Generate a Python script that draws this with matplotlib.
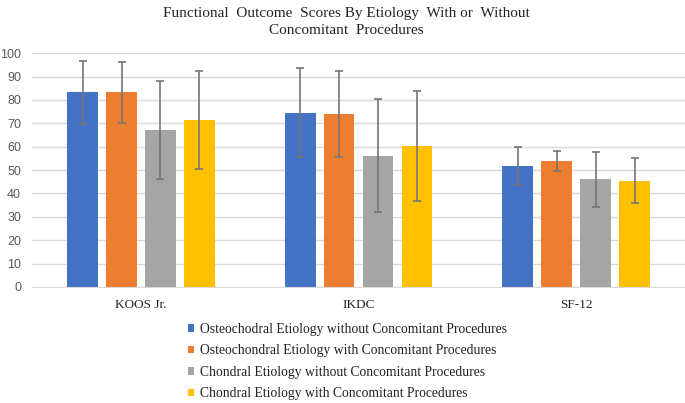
import matplotlib
matplotlib.use("Agg")
import matplotlib.pyplot as plt
import numpy as np

categories = ["KOOS Jr.", "IKDC", "SF-12"]
series_names = [
    "Osteochodral Etiology without Concomitant Procedures",
    "Osteochondral Etiology with Concomitant Procedures",
    "Chondral Etiology without Concomitant Procedures",
    "Chondral Etiology with Concomitant Procedures",
]
means = [
    [83.3, 74.6, 51.7],
    [83.3, 74.0, 54.0],
    [67.3, 56.1, 46.0],
    [71.3, 60.2, 45.5],
]
sds = [
    [13.5, 19.0, 8.0],
    [13.0, 18.5, 4.2],
    [21.0, 24.2, 11.8],
    [21.0, 23.6, 9.5],
]
yticks = list(range(0, 101, 10))

colors = ["#4472C4", "#ED7D31", "#A5A5A5", "#FFC000"]
serif = ["Liberation Serif", "DejaVu Serif"]
sans = ["Liberation Sans", "DejaVu Sans"]

fig = plt.figure(figsize=(6.85, 4.03), dpi=100)
ax = fig.add_axes([0.047, 0.288, 0.953, 0.580])

x = np.arange(len(categories))
step = 0.179
width = 0.141
for i, (name, m, s) in enumerate(zip(series_names, means, sds)):
    pos = x + (i - 1.5) * step
    ax.bar(pos, m, width=width, color=colors[i], label=name, zorder=2)
    ax.errorbar(pos, m, yerr=s, fmt="none", ecolor="#757575",
                elinewidth=1.2, capsize=3, capthick=1.2, zorder=3)

ax.set_xlim(-0.5, 2.5)
ax.set_ylim(0, 100)
ax.set_yticks(yticks)
ax.set_yticklabels([str(t) for t in yticks], family=sans, fontsize=9,
                   color="#595959")
ax.set_xticks(x)
ax.set_xticklabels(categories, family=serif, fontsize=9.5, color="#222222")
ax.tick_params(axis="x", length=0, pad=9)
ax.tick_params(axis="y", length=0, pad=8)

ax.grid(axis="y", color="#D9D9D9", linewidth=1.0, zorder=0)
for side in ["top", "right", "left"]:
    ax.spines[side].set_visible(False)
ax.spines["bottom"].set_color("#D9D9D9")

fig.text(0.505, 0.982,
         "Functional  Outcome  Scores By Etiology  With or  Without\n"
         "Concomitant  Procedures",
         ha="center", va="top", family=serif, fontsize=11,
         color="#222222", linespacing=1.4)

leg = fig.legend(loc="upper left", bbox_to_anchor=(0.256, 0.229),
                 ncol=1, frameon=False, handlelength=0.45, handleheight=0.45,
                 handletextpad=0.45, labelspacing=0.62,
                 prop={"family": serif, "size": 9.8})
for t in leg.get_texts():
    t.set_color("#222222")

fig.savefig("out.png", dpi=100, facecolor="white")
